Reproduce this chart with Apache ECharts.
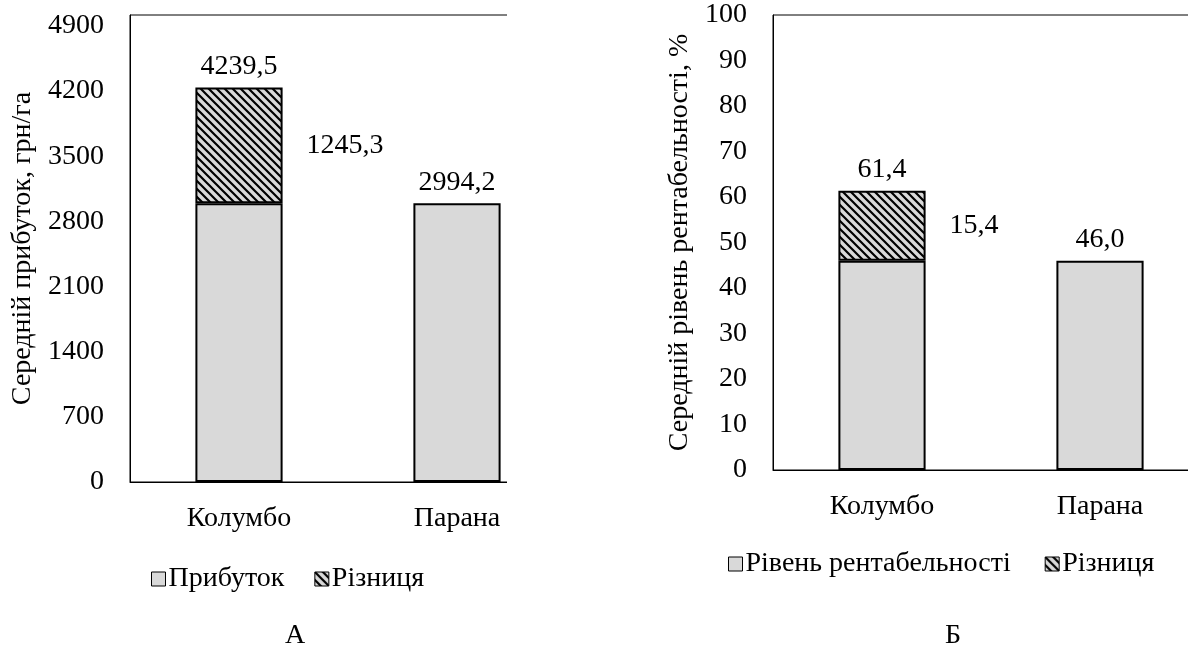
<!DOCTYPE html>
<html>
<head>
<meta charset="utf-8">
<script src="https://cdn.jsdelivr.net/npm/echarts@6/dist/echarts.min.js"></script>
<style>
  html, body { margin: 0; padding: 0; background: #fff; overflow: hidden; }
  .clip { position: absolute; top: 0; height: 649px; overflow: hidden; }
  #clipA { left: 0; width: 507px; }
  #clipB { left: 507px; width: 681px; }
  .chart { position: absolute; left: 0; top: 0; width: 760px; height: 649px; }
</style>
</head>
<body>
<div class="clip" id="clipA"><div class="chart" id="chartA"></div></div>
<div class="clip" id="clipB"><div class="chart" id="chartB"></div></div>
<script>
// дані
const categories = ["Колумбо", "Парана"];
const profit = [2994.2, 2994.2];
const profitDiff = [1245.3, null];
const profitTotal = [4239.5, 2994.2];
const profitTicks = [0, 700, 1400, 2100, 2800, 3500, 4200, 4900];

const rent = [46.0, 46.0];
const rentDiff = [15.4, null];
const rentTotal = [61.4, 46.0];
const rentTicks = [0, 10, 20, 30, 40, 50, 60, 70, 80, 90, 100];

const FONT = "Liberation Serif";
const FS = 28;

// штриховка для "Різниця"
function hatch() {
  const c = document.createElement("canvas");
  c.width = 8;
  c.height = 8;
  const g = c.getContext("2d");
  g.fillStyle = "#d9d9d9";
  g.fillRect(0, 0, 8, 8);
  g.strokeStyle = "#000";
  g.lineWidth = 2.2;
  g.beginPath();
  g.moveTo(-2, -2); g.lineTo(10, 10);
  g.moveTo(-2, 6); g.lineTo(2, 10);
  g.moveTo(6, -2); g.lineTo(10, 2);
  g.stroke();
  return c;
}
const hatchFill = { image: hatch(), repeat: "repeat" };
const fmt = (v) => Number(v).toFixed(1).replace(".", ",");

function buildOption(cfg) {
  const step = cfg.ticks[1] - cfg.ticks[0];
  return {
    animation: false,
    textStyle: { fontFamily: FONT, color: "#000" },
    title: {
      text: cfg.letter,
      left: cfg.letterX,
      top: 617,
      textAlign: "center",
      textStyle: { fontFamily: FONT, fontSize: FS, fontWeight: "normal", color: "#000" },
    },
    legend: {
      data: [cfg.baseName, "Різниця"],
      left: cfg.legendX,
      top: cfg.legendY,
      itemWidth: 14,
      itemHeight: 14,
      itemGap: cfg.legendGap,
      icon: "rect",
      textStyle: { fontFamily: FONT, fontSize: FS, color: "#000", padding: [0, 0, 0, -2] },
      itemStyle: { borderColor: "#000", borderWidth: 1 },
    },
    grid: {
      left: cfg.gridLeft,
      top: 15,
      width: 436,
      height: cfg.gridHeight,
      outerBoundsMode: "none",
      containLabel: false,
      show: true,
      borderColor: "#000",
      borderWidth: 1,
    },
    xAxis: {
      type: "category",
      data: categories,
      axisLine: { lineStyle: { color: "#000", width: 1 } },
      axisTick: { show: false },
      axisLabel: { fontFamily: FONT, fontSize: FS, color: "#000", margin: 23, interval: 0 },
    },
    yAxis: {
      type: "value",
      min: 0,
      max: cfg.max,
      interval: step,
      name: cfg.yName,
      nameLocation: "middle",
      nameGap: cfg.nameGap,
      nameTextStyle: { fontFamily: FONT, fontSize: FS, color: "#000" },
      splitLine: { show: false },
      axisLine: { show: true, lineStyle: { color: "#000" } },
      axisTick: { show: false },
      axisLabel: {
        fontFamily: FONT,
        fontSize: FS,
        color: "#000",
        margin: 26,
        showMaxLabel: cfg.showMax,
        formatter: (v) => String(v),
      },
    },
    series: [
      {
        name: cfg.baseName,
        type: "bar",
        stack: "s",
        barWidth: "40%",
        data: cfg.base,
        itemStyle: { color: "#d9d9d9", borderColor: "#000", borderWidth: 2 },
      },
      {
        name: "Різниця",
        type: "bar",
        stack: "s",
        barWidth: "40%",
        data: cfg.diff,
        itemStyle: { color: hatchFill, borderColor: "#000", borderWidth: 2 },
        label: {
          show: true,
          position: "right",
          distance: 24,
          fontFamily: FONT,
          fontSize: FS,
          color: "#000",
          formatter: (p) => fmt(p.value),
        },
      },
      {
        name: "total",
        type: "scatter",
        data: cfg.total,
        symbolSize: 0,
        silent: true,
        itemStyle: { opacity: 1, color: "#000" },
        label: {
          show: true,
          position: "top",
          distance: 7,
          fontFamily: FONT,
          fontSize: FS,
          color: "#000",
          opacity: 1,
          formatter: (p) => fmt(p.value),
        },
        z: 10,
      },
    ],
  };
}

const chartA = echarts.init(document.getElementById("chartA"));
chartA.setOption(
  buildOption({
    letter: "А",
    letterX: 290,
    legendX: 146,
    legendY: 560,
    legendGap: 30,
    baseName: "Прибуток",
    gridLeft: 130,
    gridHeight: 467,
    ticks: profitTicks,
    // верх рамки трохи вище за 4900
    max: 5018,
    showMax: false,
    yName: "Середній прибуток, грн/га",
    nameGap: 92,
    base: profit,
    diff: profitDiff,
    total: profitTotal,
  })
);

const chartB = echarts.init(document.getElementById("chartB"));
chartB.setOption(
  buildOption({
    letter: "Б",
    letterX: 441,
    legendX: 216,
    legendY: 545,
    legendGap: 34,
    baseName: "Рівень рентабельності",
    gridLeft: 266,
    gridHeight: 455,
    ticks: rentTicks,
    max: rentTicks[rentTicks.length - 1],
    showMax: true,
    yName: "Середній рівень рентабельності, %",
    nameGap: 71,
    base: rent,
    diff: rentDiff,
    total: rentTotal,
  })
);
</script>
</body>
</html>
